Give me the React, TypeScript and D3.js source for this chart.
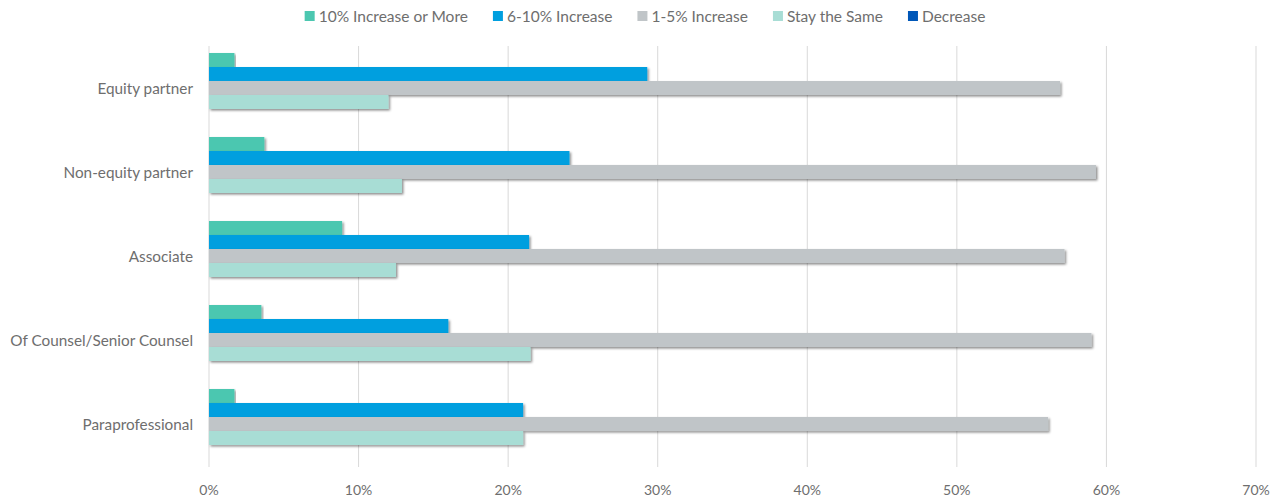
import React, { useEffect, useRef } from 'react';
import * as d3 from 'd3';

const categories = ['Equity partner', 'Non-equity partner', 'Associate', 'Of Counsel/Senior Counsel', 'Paraprofessional'];
const seriesNames = ['10% Increase or More', '6-10% Increase', '1-5% Increase', 'Stay the Same', 'Decrease'];
const seriesColors = ['#4CC7B0', '#009FDF', '#C0C5C8', '#A8DDD5', '#0057B8'];

const tenPlus = [1.7, 3.7, 8.9, 3.5, 1.7];
const sixToTen = [29.3, 24.1, 21.4, 16.0, 21.0];
const oneToFive = [56.9, 59.3, 57.2, 59.0, 56.1];
const staySame = [12.0, 12.9, 12.5, 21.5, 21.0];
const decrease = [0, 0, 0, 0, 0];

const seriesValues = [tenPlus, sixToTen, oneToFive, staySame, decrease];
const xTicks = [0, 10, 20, 30, 40, 50, 60, 70];

const W = 1284;
const H = 501;
const FONT = 'Lato, "Open Sans", sans-serif';
const TEXT = '#6E6E6E';

const App: React.FC = () => {
  const legendRef = useRef<SVGGElement>(null);

  const x = d3.scaleLinear().domain([0, 70]).range([209, 1256]);
  const y = d3.scaleBand<string>().domain(categories).range([46, 466]).paddingInner(0.1667).paddingOuter(0.0833);
  const inner = d3.scaleBand<string>().domain(seriesNames).range([0, y.bandwidth()]);

  useEffect(() => {
    // centre the legend using measured text widths
    if (!legendRef.current) return;
    const items = Array.from(legendRef.current.querySelectorAll<SVGGElement>('g.item'));
    const widths = items.map(n => (n.querySelector('text') as SVGTextElement).getComputedTextLength());
    const gap = 25;
    const total = d3.sum(widths) + items.length * 14 + (items.length - 1) * gap;
    let cx = 645 - total / 2;
    items.forEach((n, i) => {
      n.setAttribute('transform', `translate(${cx},0)`);
      cx += 14 + widths[i] + gap;
    });
  }, []);

  return (
    <div style={{ position: 'absolute', left: 0, top: 0 }}>
      <svg width={W} height={H} style={{ display: 'block', background: '#fff' }}>
        <defs>
          <filter id="shadow" x="-5%" y="-50%" width="110%" height="200%">
            <feDropShadow dx="1.5" dy="1.5" stdDeviation="1" floodColor="#000" floodOpacity="0.45" />
          </filter>
        </defs>

        {/* gridlines */}
        <g>
          {xTicks.map(t => (
            <line key={t} x1={x(t)} x2={x(t)} y1={46} y2={467} stroke="#D9D9D9" strokeWidth={1} />
          ))}
        </g>

        {/* bars */}
        <g>
          {seriesValues.map((vals, si) => (
            <g key={si} fill={seriesColors[si]}>
              {categories.map((c, ci) =>
                vals[ci] > 0 ? (
                  <rect
                    key={c}
                    x={x(0)}
                    y={(y(c) as number) + (inner(seriesNames[si]) as number)}
                    width={x(vals[ci]) - x(0)}
                    height={inner.bandwidth()}
                    filter="url(#shadow)"
                  />
                ) : null
              )}
            </g>
          ))}
        </g>

        {/* category labels */}
        <g fontFamily={FONT} fontSize={15.3} fill={TEXT}>
          {categories.map(c => (
            <text key={c} x={193} y={(y(c) as number) + y.bandwidth() / 2} textAnchor="end" dominantBaseline="central">
              {c}
            </text>
          ))}
        </g>

        {/* x tick labels */}
        <g fontFamily={FONT} fontSize={14} fill={TEXT}>
          {xTicks.map(t => (
            <text key={t} x={x(t)} y={489} textAnchor="middle" dominantBaseline="central">
              {`${t}%`}
            </text>
          ))}
        </g>

        {/* legend */}
        <g ref={legendRef} fontFamily={FONT} fontSize={15.5} fill={TEXT}>
          {seriesNames.map((s, i) => (
            <g key={s} className="item">
              <rect x={0} y={11} width={10} height={10} fill={seriesColors[i]} />
              <text x={14} y={16} dominantBaseline="central">{s}</text>
            </g>
          ))}
        </g>
      </svg>
    </div>
  );
};

export default App;
